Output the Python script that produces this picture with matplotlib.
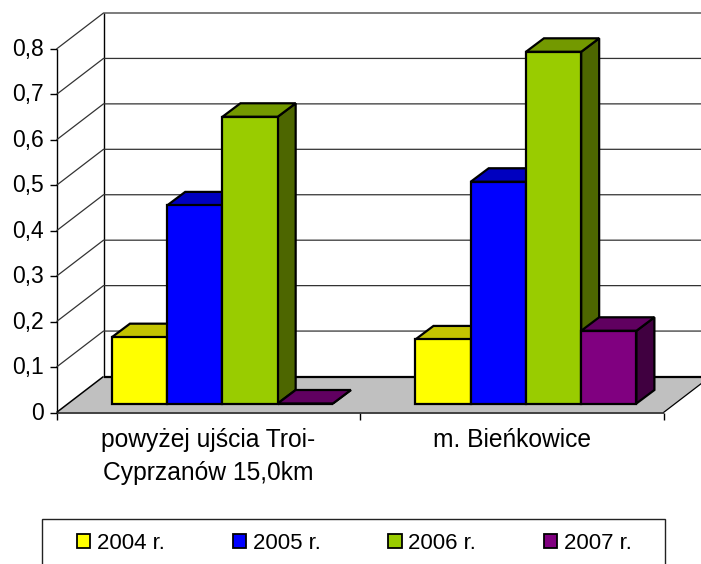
import matplotlib
matplotlib.use('Agg')
import matplotlib.pyplot as plt
from matplotlib.patches import Polygon, Patch, Rectangle
from matplotlib.transforms import ScaledTranslation

plt.rcParams['font.family'] = ['Liberation Sans', 'DejaVu Sans']

categories = ['powyżej ujścia Troi-\nCyprzanów 15,0km', 'm. Bieńkowice']
years = ['2004 r.', '2005 r.', '2006 r.', '2007 r.']
v2004 = [0.146, 0.141]
v2005 = [0.436, 0.488]
v2006 = [0.631, 0.774]
v2007 = [0.0, 0.160]
series = [v2004, v2005, v2006, v2007]
front = ['#ffff00', '#0000ff', '#99cc00', '#800080']
top = ['#c4c400', '#0000c0', '#739900', '#600060']
side = ['#808000', '#000080', '#4d6600', '#400040']
yticks = [0, 0.1, 0.2, 0.3, 0.4, 0.5, 0.6, 0.7, 0.8]
ylabels = ['0', '0,1', '0,2', '0,3', '0,4', '0,5', '0,6', '0,7', '0,8']

W, H = 701, 564
fig = plt.figure(figsize=(W / 100, H / 100), dpi=100)
L, R, T, B = 56.5, 663.5, 49, 412.5
ax = fig.add_axes([L / W, 1 - B / H, (R - L) / W, (B - T) / H])
ax.set_xlim(0, 2)
ax.set_ylim(0, 0.8)
for s in ax.spines.values():
    s.set_visible(False)
ax.patch.set_visible(False)

# depth of the fake 3d box in data units
px = 2 / (R - L)
py = 0.8 / (B - T)
dx, dy = 47 * px, 36 * py


def poly(pts, fc, ec='black', lw=1.6, z=3):
    ax.add_patch(Polygon(pts, closed=True, fc=fc, ec=ec, lw=lw, zorder=z,
                         clip_on=False, joinstyle='miter'))


def line(xs, ys, c='black', lw=0.9, z=1):
    ax.plot(xs, ys, color=c, lw=lw, zorder=z, clip_on=False, solid_capstyle='butt')


# floor
poly([(0, 0), (2, 0), (2 + dx, dy), (dx, dy)], '#c0c0c0', ec='none', lw=0, z=1)
line([dx, 2 + dx], [dy, dy], lw=1.6, z=2)
line([0, 2], [0, 0], c='#333333', lw=1.3, z=2)
line([2, 2 + dx], [0, dy], lw=0.9, z=2)
line([0, dx], [0, dy], lw=1.1, z=2)

# walls and gridlines
line([0, 0], [0, 0.8], lw=1.0)
line([dx, dx], [dy, 0.8 + dy], lw=1.0)
for t in yticks[1:]:
    line([0, dx, 2 + dx], [t, t + dy, t + dy], c='#333333', lw=0.9)

# bars
bw = 0.182
start = 0.144
fx, fy = 0.25 * dx, 0.25 * dy
bdx, bdy = 18 * px, 13.5 * py
for g in range(len(categories)):
    for i, vals in enumerate(series):
        x0 = g + start + i * bw + fx
        x1 = x0 + bw
        y0 = fy
        y1 = fy + vals[g]
        poly([(x1, y0), (x1 + bdx, y0 + bdy), (x1 + bdx, y1 + bdy), (x1, y1)], side[i])
        poly([(x0, y1), (x1, y1), (x1 + bdx, y1 + bdy), (x0 + bdx, y1 + bdy)], top[i])
        poly([(x0, y0), (x1, y0), (x1, y1), (x0, y1)], front[i])

ax.set_yticks(yticks)
ax.set_yticklabels(ylabels, fontsize=16.5, color='black')
ax.set_xticks([0, 1, 2])
ax.set_xticklabels([])
ax.tick_params(axis='both', length=5, width=1, color='black', pad=4)
# labels sit about 2px above their ticks
up = ScaledTranslation(0, 2 / 100, fig.dpi_scale_trans)
for lab in ax.get_yticklabels():
    lab.set_transform(lab.get_transform() + up)
for k, c in enumerate(categories):
    ax.text(k + 0.5, -0.034, c, ha='center', va='top', fontsize=17.7, linespacing=1.47,
            transform=ax.transData)

# legend frame runs off the bottom of the image
fig.add_artist(Rectangle((42 / W, -0.02), (665 - 42) / W, 1 - 518.5 / H + 0.02, fc='white',
                         ec='#222222', lw=1, transform=fig.transFigure))
handles = [Patch(fc=front[i], ec='black', lw=1.3, label=years[i]) for i in range(4)]
leg = fig.legend(handles=handles, ncol=4, loc='center left',
                 bbox_to_anchor=(77 / W, 1 - 543.5 / H), bbox_transform=fig.transFigure,
                 fontsize=16, frameon=False, borderaxespad=0, borderpad=0,
                 handlelength=0.6, handleheight=0.6,
                 handletextpad=0.3, columnspacing=3.05)

fig.savefig('out.png', dpi=100)
